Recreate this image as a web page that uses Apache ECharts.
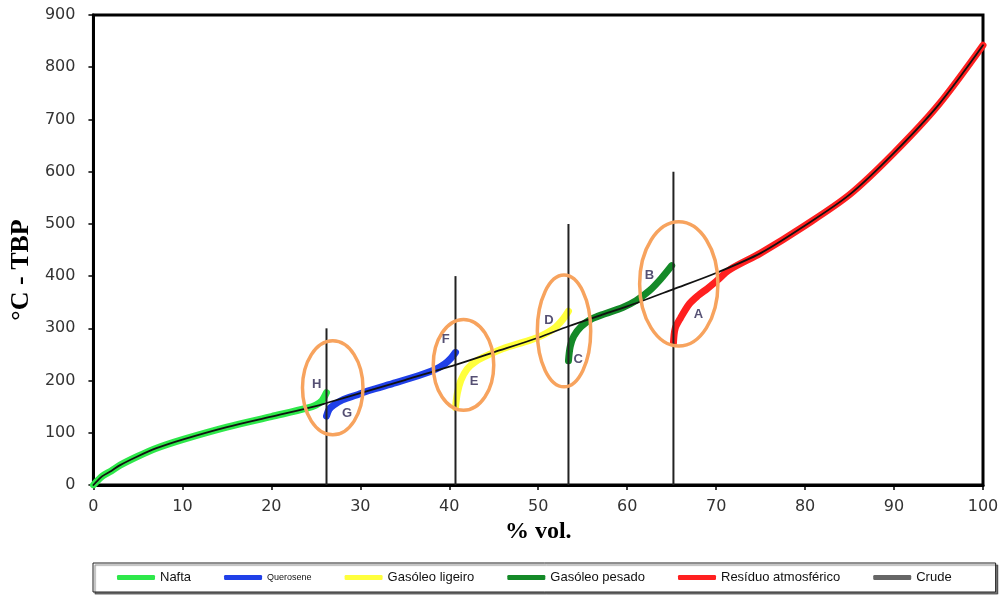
<!DOCTYPE html>
<html><head><meta charset="utf-8">
<script src="https://cdn.jsdelivr.net/npm/echarts@6/dist/echarts.min.js"></script>
<style>html,body{margin:0;padding:0;background:#fff}#c{width:1005px;height:595px}</style>
</head><body><div id="c"></div>
<script>
// ---- data ----
const seriesNames = ['Nafta','Querosene','Gasóleo ligeiro','Gasóleo pesado','Resíduo atmosférico','Crude'];
const nafta = [[0,0],[0.5,9],[1,17],[2,27],[3,38],[5,55],[7,70],[10,87],[15,111],[20,131],[24,147],[25,153],[25.7,162],[26.2,177]];
const querosene = [[26.2,132],[26.5,145],[27,153],[28,163],[29.5,172],[31,181],[34,196],[37,212],[38.5,222],[39.5,232],[40.2,243],[40.7,254]];
const gasoleoLigeiro = [[40.7,148],[40.9,175],[41.3,200],[42,222],[43,237],[44.5,250],[46,261],[49,277],[50.5,287],[51.8,300],[52.8,318],[53.4,333]];
const gasoleoPesado = [[53.4,238],[53.6,265],[54,285],[54.8,303],[56,318],[57.5,328],[59.5,340],[61,353],[62.5,372],[63.8,395],[65,420]];
const residuo = [[65.2,272],[65.4,300],[66,320],[67,347],[68,363],[69,376],[70,390],[71.5,412],[75,444],[80,497],[85,556],[90,636],[95,728],[100,842]];
const crude = [[0,0],[0.5,9],[1,17],[2,27],[3,38],[5,55],[7,70],[10,87],[15,111],[20,131],[25,151],[26.2,157],[30,176],[35,201],[40.7,230],[45,254],[50,282],[53.4,304],[57,325],[60,342],[65.2,375],[70,406],[75,444],[80,497],[85,556],[90,636],[95,728],[100,842]];
const cutPoints = [26.2, 40.7, 53.4, 65.2];
const cutTops = [300, 400, 500, 600];
// ellipse annotations: [centre x, centre y, radius x, radius y] in data units
const ellipses = [[26.9,186,3.4,90],[41.6,230,3.4,87],[52.9,295,3.0,107],[65.8,385,4.4,119]];
const letterNames = ['H','G','F','E','D','C','B','A'];
const letterPos = [[25.1,192],[28.5,138],[39.6,278],[42.8,199],[51.2,316],[54.5,241],[62.5,402],[68.0,326]];
const xMin = 0, xMax = 100, xStep = 10;
const yMin = 0, yMax = 900, yStep = 100;

const colors = ['#2ee84a','#2040e8','#ffff3c','#148a28','#ff2020','#111111'];
const values = [nafta, querosene, gasoleoLigeiro, gasoleoPesado, residuo, crude];

const chart = echarts.init(document.getElementById('c'));
const lineSeries = values.map((d, i) => ({
  name: seriesNames[i], type: 'line', data: d,
  smooth: 0.3, showSymbol: false, symbol: 'none',
  lineStyle: { color: colors[i], width: i === 5 ? 1.8 : 7, cap: 'round', join: 'round' },
  itemStyle: { color: colors[i] },
  z: i === 5 ? 4 : 2, animation: false
}));

const option = {
  animation: false,
  grid: { left: 93, right: 22, top: 15, bottom: 110, show: true, borderColor: '#000', borderWidth: 3 },
  xAxis: {
    type: 'value', min: xMin, max: xMax, interval: xStep,
    name: '% vol.', nameLocation: 'middle', nameGap: 30,
    nameTextStyle: { fontFamily: 'Liberation Serif', fontWeight: 'bold', fontSize: 24, color: '#000' },
    axisLine: { show: true, lineStyle: { color: '#000', width: 3 } },
    axisTick: { show: true, length: 5, lineStyle: { color: '#000', width: 1.5 } },
    axisLabel: { margin: 14, fontFamily: 'DejaVu Sans', fontSize: 16, color: '#333' },
    splitLine: { show: false }
  },
  yAxis: {
    type: 'value', min: yMin, max: yMax, interval: yStep,
    name: '°C - TBP', nameLocation: 'middle', nameGap: 56, nameRotate: 90,
    nameTextStyle: { fontFamily: 'Liberation Serif', fontWeight: 'bold', fontSize: 26, color: '#000', padding: [0, 40, 0, 0] },
    axisLine: { show: true, lineStyle: { color: '#000', width: 3 } },
    axisTick: { show: true, length: 5, lineStyle: { color: '#000', width: 1.5 } },
    axisLabel: { margin: 18, fontFamily: 'DejaVu Sans', fontSize: 16, color: '#333' },
    splitLine: { show: false }
  },
  legend: {
    left: 93, top: 563, right: 0,
    padding: [8, 44, 8, 24],
    borderColor: '#222', borderWidth: 1,
    shadowColor: 'rgba(0,0,0,0.5)', shadowOffsetX: 2, shadowOffsetY: 2, shadowBlur: 1,
    backgroundColor: '#fff',
    icon: 'roundRect', itemWidth: 38, itemHeight: 5, itemGap: 33,
    textStyle: { fontFamily: 'Liberation Sans', fontSize: 13, color: '#111' },
    data: seriesNames.map((n, i) => {
      const o = { name: n };
      if (i === 1) o.textStyle = { fontSize: 9 };
      if (i === 5) o.itemStyle = { color: '#666' };
      return o;
    })
  },
  series: lineSeries.concat([
    {
      type: 'custom', name: 'cuts', silent: true, z: 3,
      data: cutPoints.map((x, i) => [x, cutTops[i]]),
      encode: { x: 0, y: 1 },
      renderItem: (p, api) => {
        const a = api.coord([api.value(0), yMin]);
        const b = api.coord([api.value(0), api.value(1)]);
        return { type: 'line', shape: { x1: a[0], y1: a[1], x2: b[0], y2: b[1] }, style: { stroke: '#222', lineWidth: 2 } };
      }
    },
    {
      type: 'custom', name: 'ellipses', silent: true, z: 5,
      data: ellipses, encode: { x: 0, y: 1 },
      renderItem: (p, api) => {
        const c = api.coord([api.value(0), api.value(1)]);
        const s = api.size([api.value(2), api.value(3)]);
        return { type: 'ellipse', shape: { cx: c[0], cy: c[1], rx: s[0], ry: s[1] }, style: { fill: 'none', stroke: '#f7a35e', lineWidth: 3.5 } };
      }
    },
    {
      type: 'scatter', name: 'letters', silent: true, z: 6,
      symbolSize: 0,
      data: letterPos.map((p, i) => ({ name: letterNames[i], value: p })),
      label: { show: true, position: 'inside', formatter: '{b}', fontFamily: 'Liberation Sans', fontWeight: 'bold', fontSize: 13, color: '#2b2450' }
    }
  ])
};
chart.setOption(option);
</script></body></html>
